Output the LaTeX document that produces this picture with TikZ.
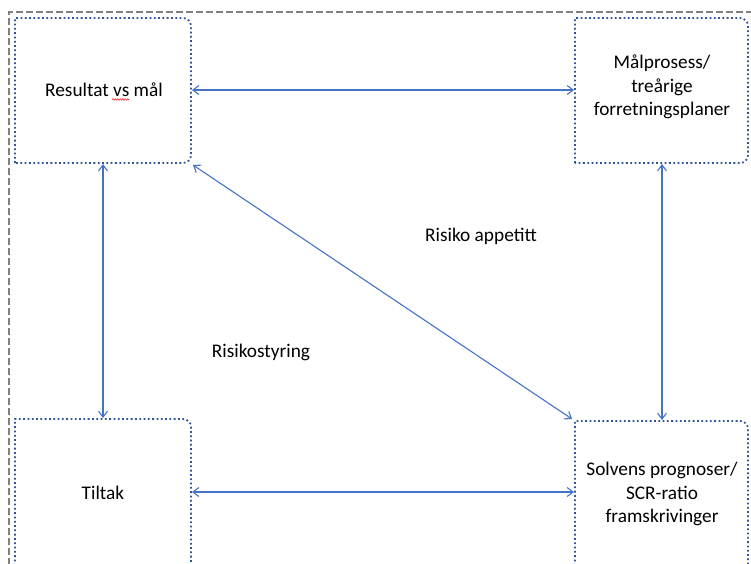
\documentclass[tikz,border=0pt]{standalone}
\usepackage{fontspec}
\setmainfont{Carlito}
\usetikzlibrary{arrows.meta,decorations.pathmorphing}
\definecolor{boxblue}{RGB}{47,85,151}
\definecolor{arrblue}{RGB}{68,114,196}
\definecolor{framegray}{RGB}{128,128,128}
\tikzset{
  box/.style={draw=boxblue, line width=1.8pt, dash pattern=on 1.8pt off 2.5pt},
  link/.style={draw=arrblue, line width=1.1pt, {Straight Barb[length=6pt,width=9pt]}-{Straight Barb[length=6pt,width=9pt]}},
  lbl/.style={font=\fontsize{19.3}{23.5}\selectfont, align=center, inner sep=0pt, text=black},
}
\begin{document}
\begin{tikzpicture}[x=1pt,y=-1pt]
\useasboundingbox (0,0) rectangle (751,563);
\clip (0,0) rectangle (751,563);
\draw[framegray, line width=1.5pt, dash pattern=on 7pt off 3pt] (9,575) -- (9,12) -- (760,12);
% boxes (bottom-left corner square)
\draw[box] (15,163) -- (15,18) [rounded corners=8pt] -- (191,18) -- (191,163) [sharp corners] -- cycle;
\draw[box] (575,163) -- (575,18) [rounded corners=8pt] -- (748,18) -- (748,163) [sharp corners] -- cycle;
\draw[box] (15,600) -- (15,419) [rounded corners=8pt] -- (191,419) -- (191,600);
\draw[box] (575,600) -- (575,421) [rounded corners=8pt] -- (748,421) -- (748,600);
% anchor coordinates
\coordinate (tlR) at (192,90);
\coordinate (trL) at (574,90);
\coordinate (tlB) at (103,164);
\coordinate (blT) at (103,418);
\coordinate (trB) at (662,164);
\coordinate (brT) at (662,420);
\coordinate (blR) at (192,492);
\coordinate (brL) at (574,492);
\coordinate (tlC) at (193,165);
\coordinate (brC) at (572,419);
% texts
\node[lbl] (res) at (104,90) {Resultat vs mål};
\draw[red, line width=0.5pt, decorate, decoration={snake, amplitude=0.8pt, segment length=2.5pt}] (112,99.5) -- (129,99.5);
\node[lbl] (mal) at (662,87) {Målprosess/\\treårige\\forretningsplaner};
\node[lbl] (tilt) at (103,493) {Tiltak};
\node[lbl] (solv) at (662,494) {Solvens prognoser/\\SCR-ratio\\framskrivinger};
\node[lbl] (app) at (481,236) {Risiko appetitt};
\node[lbl] (styr) at (261,352) {Risikostyring};
% connectors
\draw[link] (tlR) -- (trL);
\draw[link] (tlB) -- (blT);
\draw[link] (trB) -- (brT);
\draw[link] (blR) -- (brL);
\draw[link] (tlC) -- (brC);
\end{tikzpicture}
\end{document}
